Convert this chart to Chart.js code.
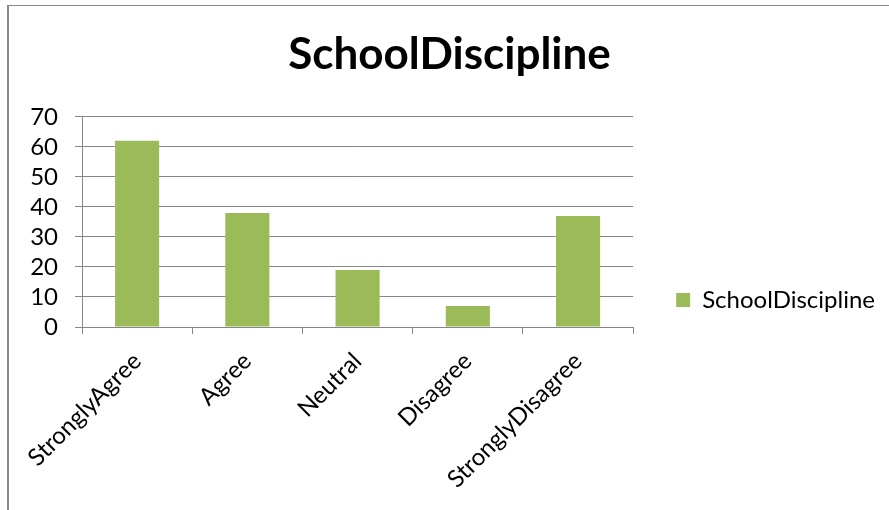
<!DOCTYPE html>
<html>
<head>
<meta charset="utf-8">
<script src="https://cdn.jsdelivr.net/npm/chart.js@4"></script>
<style>
  html, body { margin:0; padding:0; background:#fff; overflow:hidden; }
  #frame { position:absolute; left:7px; top:5px; width:900px; height:520px; border-left:2px solid #878787; border-top:1px solid #878787; }
  #wrap { position:absolute; left:0; top:0; width:889px; height:510px; }
</style>
</head>
<body>
<div id="frame"></div>
<div id="wrap"><canvas id="chart"></canvas></div>
<script>
// ---- data ----
const CATEGORIES = ['StronglyAgree','Agree','Neutral','Disagree','StronglyDisagree'];
const VALUES = [62, 38, 19, 7, 37];
const SERIES_NAME = 'SchoolDiscipline';
const Y_MIN = 0, Y_MAX = 70, Y_STEP = 10;

const BAR_COLOR = '#9BBB59';
const LINE_COLOR = '#868686';
const FONT = 'Lato, "Liberation Sans", sans-serif';

// nudge the legend down so it sits beside the lower part of the plot
const legendShift = {
  id: 'legendShift',
  afterLayout(chart) { const l = chart.legend; l.top += 45; l.bottom += 45; }
};

new Chart(document.getElementById('chart'), {
  type: 'bar',
  data: { labels: CATEGORIES, datasets: [{
    label: SERIES_NAME, data: VALUES,
    backgroundColor: BAR_COLOR, borderWidth: 0,
    categoryPercentage: 0.4, barPercentage: 1
  }]},
  options: {
    responsive: true, maintainAspectRatio: false, animation: false,
    layout: { padding: { left: 14, right: 4, top: 0, bottom: 0 } },
    plugins: {
      title: { display: true, text: SERIES_NAME, color: '#000',
        font: { family: FONT, size: 44, weight: 'bold' }, padding: { top: 28, bottom: 36 } },
      legend: { position: 'right', maxWidth: 300,
        labels: { color: '#000', font: { family: FONT, size: 24 }, boxWidth: 14, boxHeight: 14, padding: 43 } },
      tooltip: { enabled: false }
    },
    scales: {
      x: {
        afterFit: s => { s.height = 183; },
        grid: { drawOnChartArea: false, drawTicks: true, tickLength: 7, color: LINE_COLOR },
        border: { color: LINE_COLOR },
        ticks: { color: '#000', font: { family: FONT, size: 24 }, minRotation: 45, maxRotation: 45, padding: 13, autoSkip: false }
      },
      y: {
        min: Y_MIN, max: Y_MAX,
        afterFit: s => { s.width = 68; },
        grid: { color: LINE_COLOR, tickLength: 7 },
        border: { color: LINE_COLOR },
        ticks: { stepSize: Y_STEP, color: '#000', font: { family: FONT, size: 24 }, padding: 17, autoSkip: false }
      }
    }
  },
  plugins: [legendShift]
});
</script>
</body>
</html>
